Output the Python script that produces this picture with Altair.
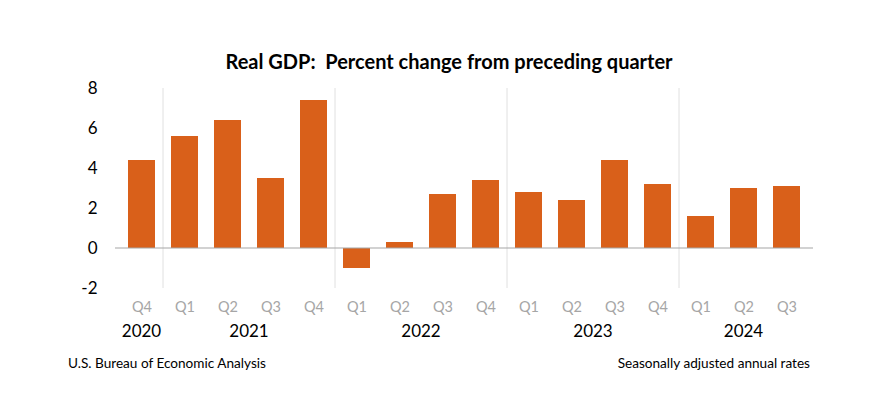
import json
import altair as alt
import pandas as pd

quarters = ["Q4", "Q1", "Q2", "Q3", "Q4", "Q1", "Q2", "Q3", "Q4",
            "Q1", "Q2", "Q3", "Q4", "Q1", "Q2", "Q3"]
years = [2020, 2021, 2021, 2021, 2021, 2022, 2022, 2022, 2022,
         2023, 2023, 2023, 2023, 2024, 2024, 2024]
values = [4.4, 5.6, 6.4, 3.5, 7.4, -1.0, 0.3, 2.7, 3.4,
          2.8, 2.4, 4.4, 3.2, 1.6, 3.0, 3.1]
y_ticks = [-2, 0, 2, 4, 6, 8]

FONT = "Lato"
BAR = "#D9601A"

df = pd.DataFrame({"idx": list(range(len(values))), "q": quarters,
                   "year": years, "value": values})

year_df = (df.groupby("year", as_index=False)["idx"].mean()
           .assign(label=lambda d: d["year"].astype(str)))
sep_df = pd.DataFrame({"pos": [i - 0.5 for i in range(1, len(years))
                               if years[i] != years[i - 1]]})

xscale = alt.Scale(domain=[-0.5, len(values) - 0.5], nice=False, zero=False)
yscale = alt.Scale(domain=[-2, 8], nice=False)

label_expr = json.dumps(quarters) + "[datum.value]"

xaxis = alt.Axis(values=list(range(len(values))), labelExpr=label_expr,
                 title=None, grid=False, ticks=False, domain=False,
                 labelColor="#A6A6A6", labelFontSize=14.5, labelFont=FONT,
                 labelPadding=12, labelOverlap=False, labelFlush=False)
yaxis = alt.Axis(values=y_ticks, title=None, grid=False, ticks=False,
                 domain=False, labelColor="#000000", labelFontSize=17,
                 labelFont=FONT, labelPadding=18, labelOverlap=False,
                 labelFlush=False, labelExpr="'' + datum.value")

seps = alt.Chart(sep_df).mark_rule(color="#E0E0E0", strokeWidth=1).encode(
    x=alt.X("pos:Q", scale=xscale, axis=xaxis),
    y=alt.value(0), y2=alt.value(200))

bars = alt.Chart(df).mark_bar(color=BAR, size=27).encode(
    x=alt.X("idx:Q", scale=xscale, axis=xaxis),
    y=alt.Y("value:Q", scale=yscale, axis=yaxis))

zero = alt.Chart(pd.DataFrame({"z": [0]})).mark_rule(
    color="#A6A6A6", strokeWidth=1.2).encode(
    y=alt.Y("z:Q", scale=yscale, axis=yaxis), x=alt.value(0), x2=alt.value(698))

year_text = alt.Chart(year_df).mark_text(
    font=FONT, fontSize=17, color="#000000", baseline="middle").encode(
    x=alt.X("idx:Q", scale=xscale, axis=xaxis), y=alt.value(244), text="label:N")

foot_left = alt.Chart(pd.DataFrame({"t": ["U.S. Bureau of Economic Analysis"]})).mark_text(
    font=FONT, fontSize=13.6, color="#000000", align="left", baseline="middle").encode(
    x=alt.value(-47), y=alt.value(276), text="t:N")
foot_right = alt.Chart(pd.DataFrame({"t": ["Seasonally adjusted annual rates"]})).mark_text(
    font=FONT, fontSize=13.6, color="#000000", align="right", baseline="middle").encode(
    x=alt.value(695), y=alt.value(276), text="t:N")

chart = alt.layer(seps, bars, zero, year_text, foot_left, foot_right).properties(
    width=698, height=200,
    title=alt.TitleParams("Real GDP:\u00a0 Percent change from preceding quarter",
                          font=FONT, fontSize=20, fontWeight="bold",
                          color="#000000", anchor="middle", dx=-15, offset=6),
    autosize=alt.AutoSizeParams(type="none"),
    padding={"left": 107, "top": 80, "right": 59, "bottom": 101},
    background="white",
).configure_view(strokeWidth=0, stroke=None)

chart.save("out.html", embed_options={"renderer": "svg", "actions": False})
